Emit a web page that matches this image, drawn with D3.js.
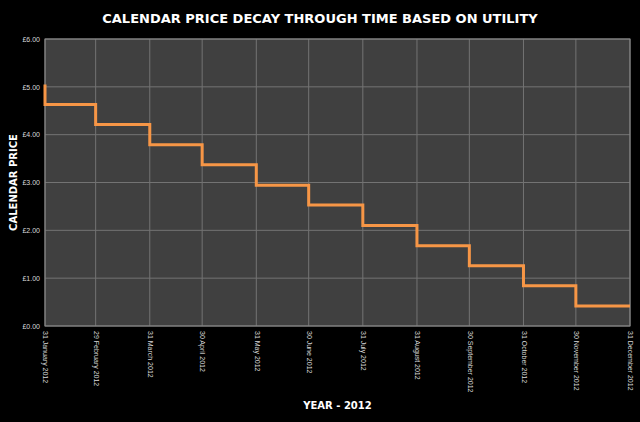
<!DOCTYPE html>
<html>
<head>
<meta charset="utf-8">
<script src="https://cdn.jsdelivr.net/npm/d3@7"></script>
<style>
  body { margin: 0; background: #000; }
  svg { display: block; }
</style>
</head>
<body>
<div id="chart"></div>
<script>
// month-end dates and the calendar price at each one
const dates = ['2012-01-31', '2012-02-29', '2012-03-31', '2012-04-30', '2012-05-31', '2012-06-30',
  '2012-07-31', '2012-08-31', '2012-09-30', '2012-10-31', '2012-11-30', '2012-12-31'];
const prices = [5.05, 4.63, 4.21, 3.79, 3.37, 2.94, 2.53, 2.10, 1.68, 1.26, 0.84, 0.42];
const yTicks = [0, 1, 2, 3, 4, 5, 6];

const width = 640;
const height = 422;
const margin = { top: 39, right: 10, bottom: 96, left: 45 };
const innerW = width - margin.left - margin.right;
const innerH = height - margin.top - margin.bottom;

const parse = d3.timeParse('%Y-%m-%d');
const data = dates.map((d, i) => ({ date: parse(d), price: prices[i] }));

const svg = d3.select('#chart')
  .append('svg')
  .attr('width', width)
  .attr('height', height)
  .style('background', '#000');

const g = svg.append('g')
  .attr('transform', `translate(${margin.left},${margin.top})`);

const x = d3.scaleTime()
  .domain(d3.extent(data, (d) => d.date))
  .range([0, innerW]);

const y = d3.scaleLinear()
  .domain([0, 6])
  .range([innerH, 0]);

// plot background
g.append('rect')
  .attr('width', innerW)
  .attr('height', innerH)
  .attr('fill', '#404040');

// gridlines
g.append('g')
  .selectAll('line')
  .data(yTicks)
  .enter()
  .append('line')
  .attr('x1', 0)
  .attr('x2', innerW)
  .attr('y1', (d) => y(d))
  .attr('y2', (d) => y(d))
  .attr('stroke', '#737373')
  .attr('stroke-width', 1);

g.append('g')
  .selectAll('line')
  .data(data)
  .enter()
  .append('line')
  .attr('x1', (d) => x(d.date))
  .attr('x2', (d) => x(d.date))
  .attr('y1', 0)
  .attr('y2', innerH)
  .attr('stroke', '#737373')
  .attr('stroke-width', 1);

// plot border
g.append('rect')
  .attr('width', innerW)
  .attr('height', innerH)
  .attr('fill', 'none')
  .attr('stroke', '#8a8a8a')
  .attr('stroke-width', 1);

// y axis
const yAxis = g.append('g')
  .call(d3.axisLeft(y).tickValues(yTicks).tickSize(0).tickPadding(5)
    .tickFormat((d) => `£${d3.format('.2f')(d)}`));
yAxis.select('.domain').remove();
yAxis.selectAll('text')
  .attr('fill', '#d9d9d9')
  .style('font-family', '"Liberation Sans", Arial, sans-serif')
  .style('font-size', '7px');

// x axis, labels rotated to read downward
const xAxis = g.append('g')
  .attr('transform', `translate(0,${innerH})`)
  .call(d3.axisBottom(x).tickValues(data.map((d) => d.date)).tickSize(0)
    .tickFormat(d3.timeFormat('%d %B %Y')));
xAxis.select('.domain').remove();
xAxis.selectAll('text')
  .attr('fill', '#d9d9d9')
  .attr('transform', 'rotate(90)')
  .attr('x', 5)
  .attr('y', 0)
  .attr('dy', '0.32em')
  .style('text-anchor', 'start')
  .style('font-family', '"Liberation Sans", Arial, sans-serif')
  .style('font-size', '7px');

// step line
g.append('path')
  .datum(data)
  .attr('fill', 'none')
  .attr('stroke', '#f79646')
  .attr('stroke-width', 3)
  .attr('stroke-linejoin', 'miter')
  .attr('d', d3.line()
    .curve(d3.curveStepBefore)
    .x((d) => x(d.date))
    .y((d) => y(d.price)));

// titles
svg.append('text')
  .attr('x', width / 2)
  .attr('y', 23)
  .attr('text-anchor', 'middle')
  .attr('fill', '#fff')
  .style('font-family', '"DejaVu Sans", sans-serif')
  .style('font-weight', 'bold')
  .style('font-size', '13px')
  .text('CALENDAR PRICE DECAY THROUGH TIME BASED ON UTILITY');

svg.append('text')
  .attr('transform', `translate(17,${margin.top + innerH / 2}) rotate(-90)`)
  .attr('text-anchor', 'middle')
  .attr('fill', '#fff')
  .style('font-family', '"DejaVu Sans", sans-serif')
  .style('font-weight', 'bold')
  .style('font-size', '10px')
  .text('CALENDAR PRICE');

svg.append('text')
  .attr('x', margin.left + innerW / 2)
  .attr('y', 409)
  .attr('text-anchor', 'middle')
  .attr('fill', '#fff')
  .style('font-family', '"DejaVu Sans", sans-serif')
  .style('font-weight', 'bold')
  .style('font-size', '10px')
  .text('YEAR - 2012');
</script>
</body>
</html>
